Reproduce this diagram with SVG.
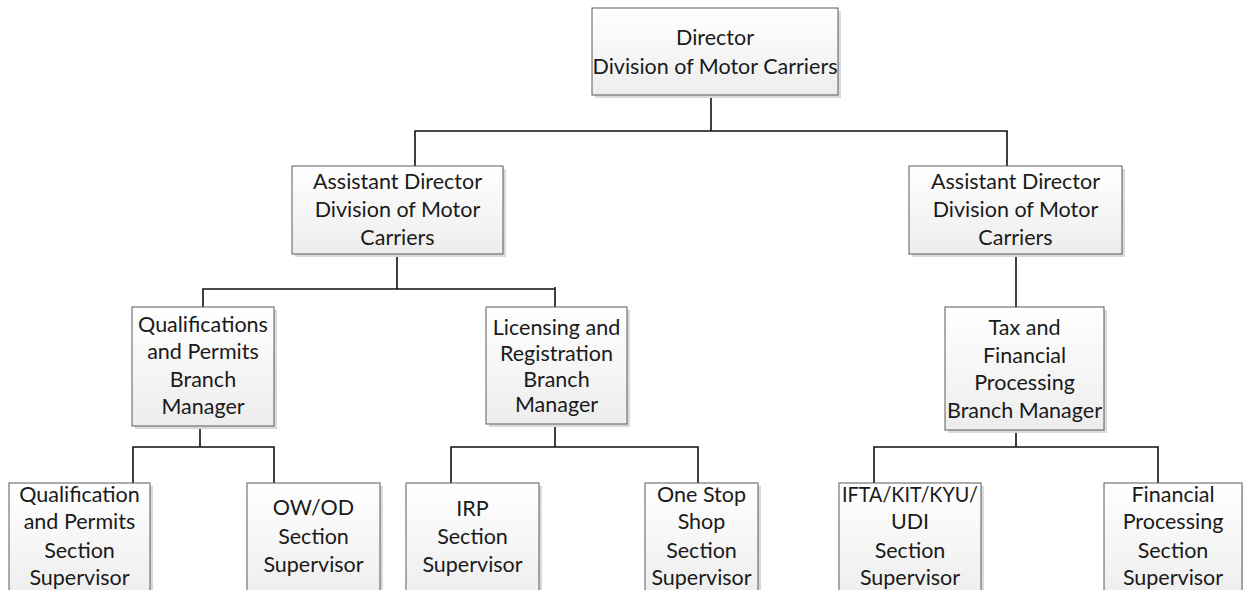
<svg xmlns="http://www.w3.org/2000/svg" width="1243" height="590" viewBox="0 0 1243 590">
<defs>
<linearGradient id="g" x1="0" y1="0" x2="0" y2="1">
<stop offset="0" stop-color="#ffffff"/>
<stop offset="1" stop-color="#ededed"/>
</linearGradient>
</defs>
<style>
.box{fill:url(#g);stroke:#5a5a5a;stroke-width:1}
.sh{fill:#dadada}
.t{font-family:Lato,"Liberation Sans",sans-serif;font-size:21.5px;fill:#1a1a1a;text-anchor:middle}
.c{stroke:#111;stroke-width:1.6;fill:none}
</style>
<rect width="1243" height="590" fill="#fff"/>
<g id="connectors">
<path class="c" d="M711 95V131M415 166V131H1007V166"/>
<path class="c" d="M397 254V289M203 307V289H555M555 287V307"/>
<path class="c" d="M200 426V447M133 483V447H274V483"/>
<path class="c" d="M555 424V447M451 483V447H698V483"/>
<path class="c" d="M1016 254V307"/>
<path class="c" d="M1016 430V447M874 483V447H1158V483"/>
</g>
<g id="director">
<rect class="sh" x="595" y="11" width="246" height="87"/>
<rect class="box" x="592" y="8" width="246" height="87"/>
<text class="t" x="715" y="45">Director</text>
<text class="t" x="715" y="74">Division of Motor Carriers</text>
</g>
<g id="asst-left">
<rect class="sh" x="295" y="169" width="211" height="88"/>
<rect class="box" x="292" y="166" width="211" height="88"/>
<text class="t" x="397.5" y="189">Assistant Director</text>
<text class="t" x="397.5" y="217">Division of Motor</text>
<text class="t" x="397.5" y="245">Carriers</text>
</g>
<g id="asst-right">
<rect class="sh" x="912" y="169" width="213" height="88"/>
<rect class="box" x="909" y="166" width="213" height="88"/>
<text class="t" x="1015.5" y="189">Assistant Director</text>
<text class="t" x="1015.5" y="217">Division of Motor</text>
<text class="t" x="1015.5" y="245">Carriers</text>
</g>
<g id="qual-branch">
<rect class="sh" x="135" y="310" width="142" height="119"/>
<rect class="box" x="132" y="307" width="142" height="119"/>
<text class="t" x="203" y="332">Qualifications</text>
<text class="t" x="203" y="359">and Permits</text>
<text class="t" x="203" y="387">Branch</text>
<text class="t" x="203" y="414">Manager</text>
</g>
<g id="lic-branch">
<rect class="sh" x="489" y="310" width="141" height="117"/>
<rect class="box" x="486" y="307" width="141" height="117"/>
<text class="t" x="556.5" y="335">Licensing and</text>
<text class="t" x="556.5" y="361">Registration</text>
<text class="t" x="556.5" y="387">Branch</text>
<text class="t" x="556.5" y="412">Manager</text>
</g>
<g id="tax-branch">
<rect class="sh" x="948" y="310" width="159" height="123"/>
<rect class="box" x="945" y="307" width="159" height="123"/>
<text class="t" x="1024.5" y="335">Tax and</text>
<text class="t" x="1024.5" y="363">Financial</text>
<text class="t" x="1024.5" y="390">Processing</text>
<text class="t" x="1024.5" y="418">Branch Manager</text>
</g>
<g id="qual-section">
<rect class="sh" x="12" y="486" width="141" height="120"/>
<rect class="box" x="9" y="483" width="141" height="120"/>
<text class="t" x="79.5" y="502">Qualification</text>
<text class="t" x="79.5" y="529">and Permits</text>
<text class="t" x="79.5" y="558">Section</text>
<text class="t" x="79.5" y="585">Supervisor</text>
</g>
<g id="owod-section">
<rect class="sh" x="250" y="486" width="133" height="120"/>
<rect class="box" x="247" y="483" width="133" height="120"/>
<text class="t" x="313.5" y="515">OW/OD</text>
<text class="t" x="313.5" y="544">Section</text>
<text class="t" x="313.5" y="572">Supervisor</text>
</g>
<g id="irp-section">
<rect class="sh" x="409" y="486" width="133" height="120"/>
<rect class="box" x="406" y="483" width="133" height="120"/>
<text class="t" x="472.5" y="516">IRP</text>
<text class="t" x="472.5" y="544">Section</text>
<text class="t" x="472.5" y="572">Supervisor</text>
</g>
<g id="onestop-section">
<rect class="sh" x="648" y="486" width="113" height="120"/>
<rect class="box" x="645" y="483" width="113" height="120"/>
<text class="t" x="701.5" y="502">One Stop</text>
<text class="t" x="701.5" y="529">Shop</text>
<text class="t" x="701.5" y="558">Section</text>
<text class="t" x="701.5" y="585">Supervisor</text>
</g>
<g id="ifta-section">
<rect class="sh" x="842" y="486" width="142" height="120"/>
<rect class="box" x="839" y="483" width="142" height="120"/>
<text class="t" x="910" y="502" textLength="136" lengthAdjust="spacingAndGlyphs">IFTA/KIT/KYU/</text>
<text class="t" x="910" y="529">UDI</text>
<text class="t" x="910" y="558">Section</text>
<text class="t" x="910" y="585">Supervisor</text>
</g>
<g id="fin-section">
<rect class="sh" x="1107" y="486" width="138" height="120"/>
<rect class="box" x="1104" y="483" width="138" height="120"/>
<text class="t" x="1173" y="502">Financial</text>
<text class="t" x="1173" y="529">Processing</text>
<text class="t" x="1173" y="558">Section</text>
<text class="t" x="1173" y="585">Supervisor</text>
</g>
</svg>
